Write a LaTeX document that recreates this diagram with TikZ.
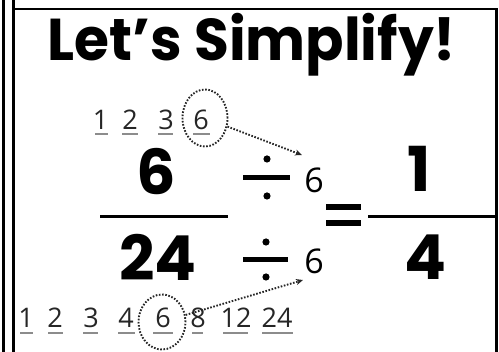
\documentclass[tikz,border=0pt]{standalone}
\usepackage{fontspec}
\usepackage{graphicx}
\setmainfont{Poppins}
\newfontfamily\handfont{Open Sans}
\usetikzlibrary{shapes.geometric,arrows.meta}
\begin{document}
\begin{tikzpicture}[x=1pt,y=-1pt,
  titletext/.style={font=\fontsize{59}{59}\selectfont\bfseries, inner sep=0, anchor=base},
  bigdig/.style={font=\fontsize{62}{62}\selectfont\bfseries, inner sep=0},
  smalldig/.style={font=\handfont\fontsize{27}{27}\selectfont, inner sep=0, text=black!85},
  hand/.style={font=\handfont\fontsize{34}{34}\selectfont, inner sep=0},
  uline/.style={line width=2pt, draw=black!45},
  frameline/.style={line width=2.5pt},
  dotcirc/.style={draw=black!85, ellipse, dash pattern=on 1.6pt off 1.6pt, line width=1.9pt, inner sep=0},
  dotarrow/.style={draw=black!85, dash pattern=on 1.6pt off 1.6pt, line width=1.9pt, -{Stealth[length=7pt,width=6pt,fill=black!85]}},
  divbar/.style={line width=5pt},
  eqbar/.style={line width=6pt},
  fracbar/.style={line width=3pt}
]
\useasboundingbox (0,0) rectangle (499,352);
% frame
\draw[frameline] (3.5,0) -- (3.5,352);
\draw[frameline] (13.5,0) -- (13.5,352);
\draw[frameline] (13.5,9) -- (496.5,9) -- (496.5,352);
% title
\node[titletext] (title) at (252,61) {\scalebox{0.96}[1]{Let’s Simplify!}};
% top factors
\foreach \n/\x in {1/100.5,2/130,3/166,6/201}{
  \node[smalldig] (t\n) at (\x,120) {\n};
}
\foreach \a/\b in {95/108,122/138,158/173,193/210}{
  \draw[uline] (\a,134) -- (\b,134);
}
% bottom factors
\foreach \n/\x in {1/26,2/55,3/91,4/126,6/163,8/198,12/236,24/277}{
  \node[smalldig] (b\n) at (\x,318) {\n};
}
\foreach \a/\b in {20/33,48/63,83/98,118/135,153/173,192/203,223/248,262/293}{
  \draw[uline] (\a,333) -- (\b,333);
}
% circles
\node[dotcirc, minimum width=45pt, minimum height=57pt] (c1) at (205,118) {};
\node[dotcirc, minimum width=47pt, minimum height=55pt] (c2) at (162,322) {};
% big fraction
\node[bigdig] (six) at (156,172) {6};
\node[bigdig] (tf) at (158,257) {24};
\draw[fracbar] (100,217) -- (228,217);
% division signs
\draw[divbar] (243,178) -- (290,178);
\fill (267,159) circle (3.6);
\fill (267,196) circle (3.6);
\draw[divbar] (243,260) -- (288,260);
\fill (266,242) circle (3.6);
\fill (266,277) circle (3.6);
\node[hand] (d1) at (314,180) {6};
\node[hand] (d2) at (314,261) {6};
% arrows
\coordinate (e1) at (302,155);
\coordinate (e2) at (303,280);
\draw[dotarrow] (c1) -- (e1);
\draw[dotarrow] (c2) -- (e2);
% equals
\draw[eqbar] (326,207) -- (361,207);
\draw[eqbar] (326,223) -- (361,223);
% result fraction
\draw[fracbar] (368,217) -- (497,217);
\node[bigdig] (one) at (419,169) {1};
\node[bigdig] (four) at (425,257) {4};
\end{tikzpicture}
\end{document}
